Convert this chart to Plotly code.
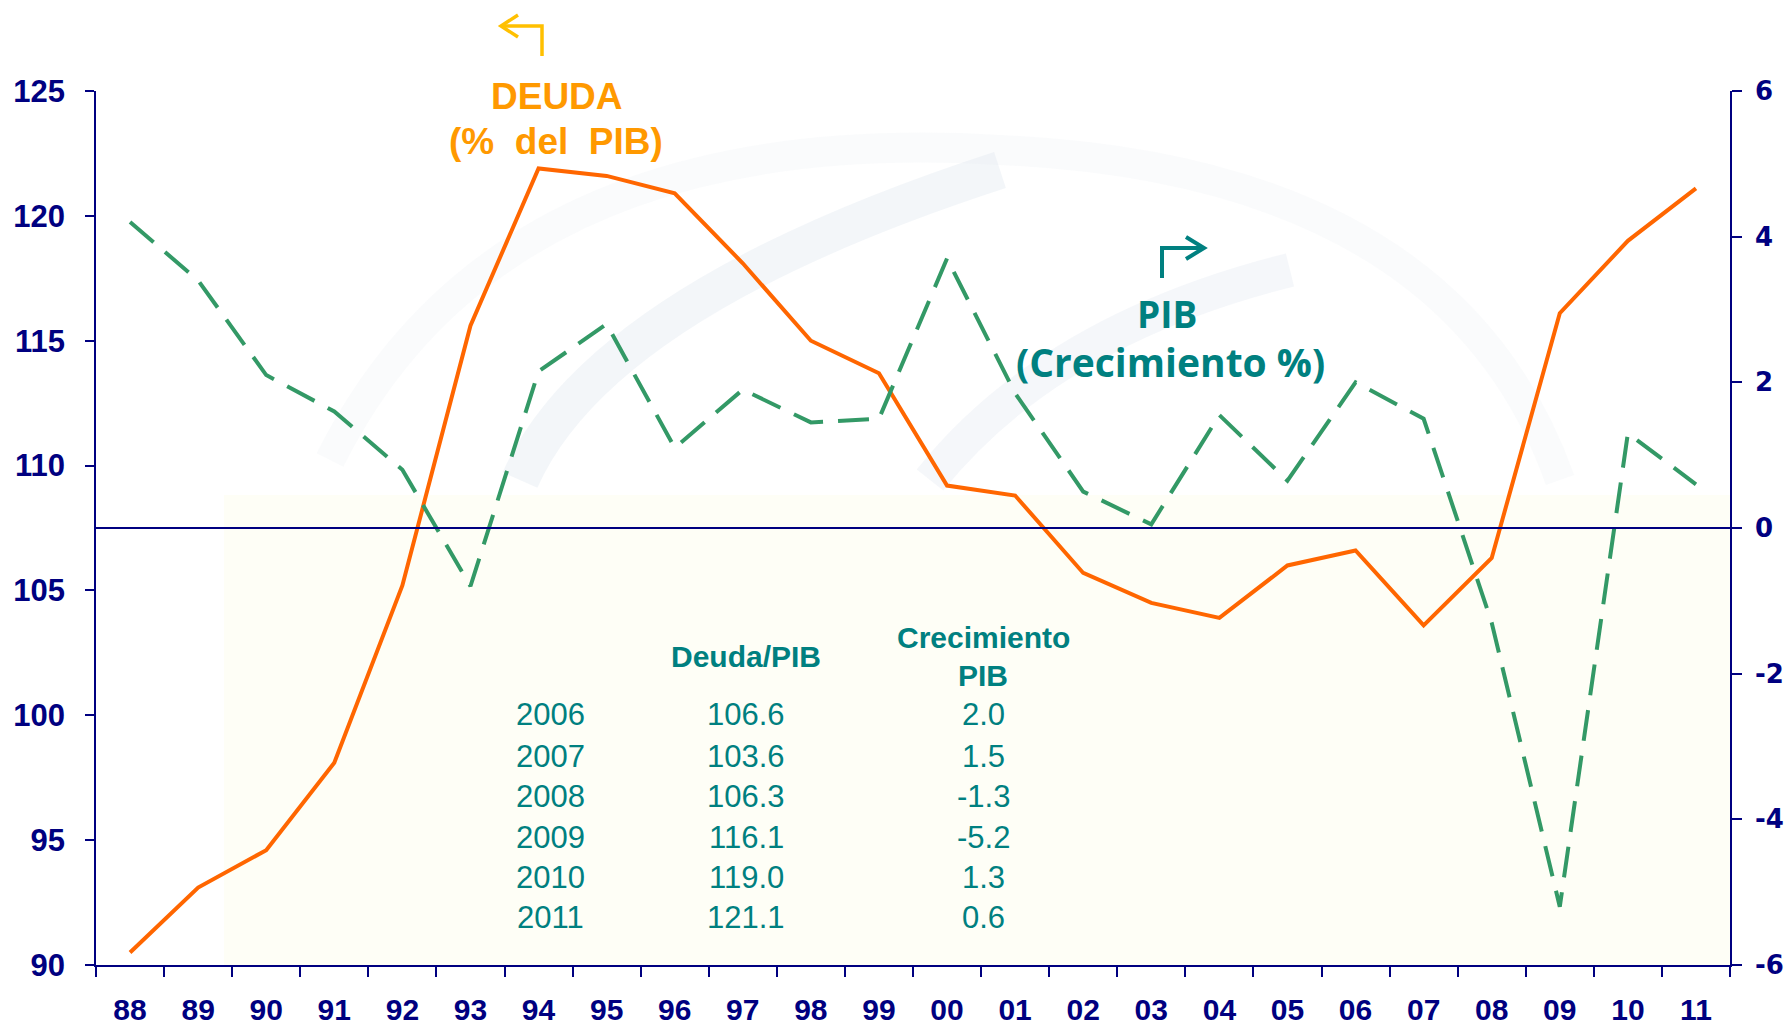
import plotly.graph_objects as go

years = ["88", "89", "90", "91", "92", "93", "94", "95", "96", "97", "98", "99",
         "00", "01", "02", "03", "04", "05", "06", "07", "08", "09", "10", "11"]
deuda = [90.5, 93.1, 94.6, 98.1, 105.2, 115.6, 121.9, 121.6, 120.9, 118.1, 115.0, 113.7,
         109.2, 108.8, 105.7, 104.5, 103.9, 106.0, 106.6, 103.6, 106.3, 116.1, 119.0, 121.1]
pib = [4.2, 3.4, 2.1, 1.6, 0.8, -0.8, 2.15, 2.8, 1.1, 1.9, 1.45, 1.5,
       3.7, 1.85, 0.5, 0.05, 1.55, 0.65, 2.0, 1.5, -1.3, -5.2, 1.3, 0.6]

right_ticks = [-6, -4, -2, 0, 2, 4, 6]
right_labels = ["-6", "-4", "-2", "0", "2", "4", "6"]

table_years = ["2006", "2007", "2008", "2009", "2010", "2011"]
table_deuda = ["106.6", "103.6", "106.3", "116.1", "119.0", "121.1"]
table_pib = ["2.0", "1.5", "-1.3", "-5.2", "1.3", "0.6"]

W, H = 1787, 1025
L, R, T, B = 96, 1730, 91, 965

NAVY = "#000080"
ORANGE = "#FF6600"
GREEN = "#339966"
TEAL = "#008080"


def px(x):
    return (x - L) / (R - L)


def py(y):
    return (B - y) / (B - T)


fig = go.Figure()
fig.add_trace(go.Scatter(x=years, y=deuda, mode="lines", name="Deuda",
                         line=dict(color=ORANGE, width=4), yaxis="y"))
fig.add_trace(go.Scatter(x=years, y=pib, mode="lines", name="PIB",
                         line=dict(color=GREEN, width=4, dash="31px,15px"), yaxis="y2"))

shapes = []
# faint background decoration
shapes.append(dict(type="rect", xref="paper", yref="paper", x0=px(224), x1=1, y0=0, y1=py(495),
                   fillcolor="#FEFEF6", line=dict(width=0), layer="below"))
shapes.append(dict(type="path", xref="paper", yref="paper", layer="below",
                   path=f"M {px(520)},{py(480)} Q {px(600)},{py(300)} {px(1000)},{py(170)}",
                   line=dict(color="rgba(215,225,235,0.30)", width=38)))
shapes.append(dict(type="path", xref="paper", yref="paper", layer="below",
                   path=f"M {px(930)},{py(480)} Q {px(1050)},{py(330)} {px(1290)},{py(270)}",
                   line=dict(color="rgba(215,225,235,0.26)", width=34)))
shapes.append(dict(type="path", xref="paper", yref="paper", layer="below",
                   path=f"M {px(330)},{py(460)} Q {px(500)},{py(120)} {px(1000)},{py(150)} Q {px(1450)},{py(170)} {px(1560)},{py(480)}",
                   line=dict(color="rgba(225,232,240,0.18)", width=30)))
# zero line on right axis
shapes.append(dict(type="line", xref="paper", yref="y2", x0=0, x1=1, y0=0, y1=0,
                   line=dict(color=NAVY, width=2)))
# orange arrow (left axis)
AO = "#FFC000"
shapes.append(dict(type="path", xref="paper", yref="paper",
                   path=f"M {px(542)},{py(56)} L {px(542)},{py(26)} L {px(502)},{py(26)}",
                   line=dict(color=AO, width=3.5)))
shapes.append(dict(type="path", xref="paper", yref="paper",
                   path=f"M {px(518)},{py(15)} L {px(501)},{py(26)} L {px(518)},{py(37)}",
                   line=dict(color=AO, width=3.5)))
# teal arrow (right axis)
shapes.append(dict(type="path", xref="paper", yref="paper",
                   path=f"M {px(1162)},{py(278)} L {px(1162)},{py(248)} L {px(1203)},{py(248)}",
                   line=dict(color=TEAL, width=4)))
shapes.append(dict(type="path", xref="paper", yref="paper",
                   path=f"M {px(1186)},{py(237)} L {px(1204)},{py(248)} L {px(1186)},{py(259)}",
                   line=dict(color=TEAL, width=4)))

ann = []


def txt(x, y, s, color, size, family="Liberation Sans, Arial, sans-serif", bold=False):
    ann.append(dict(x=px(x), y=py(y), xref="paper", yref="paper", showarrow=False,
                    text=f"<b>{s}</b>" if bold else s, xanchor="center", yanchor="middle",
                    font=dict(color=color, size=size, family=family)))


txt(557, 97, "DEUDA", "#FF9900", 37, bold=True)
txt(556, 141, "(%&nbsp; del&nbsp; PIB)", "#FF9900", 37, bold=True)
txt(1167, 313, "PIB", TEAL, 37, family="Open Sans, DejaVu Sans, sans-serif", bold=True)
txt(1170, 361, "(Crecimiento %)", TEAL, 39, family="Open Sans, DejaVu Sans, sans-serif", bold=True)

txt(746, 656, "Deuda/PIB", TEAL, 30, bold=True)
txt(983, 637, "Crecimiento", TEAL, 30, bold=True)
txt(983, 675, "PIB", TEAL, 30, bold=True)
row_y = [715, 756, 796.5, 837, 877.5, 917]
for i in range(len(table_years)):
    txt(550, row_y[i], table_years[i], TEAL, 31)
    txt(746, row_y[i], table_deuda[i], TEAL, 31)
    txt(983, row_y[i], table_pib[i], TEAL, 31)

fig.update_layout(
    width=W, height=H,
    margin=dict(l=L, r=W - R, t=T, b=H - B, autoexpand=False),
    paper_bgcolor="white", plot_bgcolor="rgba(0,0,0,0)",
    showlegend=False,
    shapes=shapes, annotations=ann,
    xaxis=dict(type="category", range=[-0.5, 23.5], tickson="boundaries",
               ticks="outside", ticklen=10, tickcolor=NAVY, tickwidth=1.5,
               showline=True, linecolor=NAVY, linewidth=1.5, showgrid=False,
               zeroline=False, ticklabelstandoff=17,
               tickfont=dict(family="Liberation Sans, Arial, sans-serif", size=30, color=NAVY),
               tickprefix="<b>", ticksuffix="</b>"),
    yaxis=dict(range=[90, 125], dtick=5, tick0=90, ticks="outside", ticklen=9,
               tickcolor=NAVY, tickwidth=1.5, showline=True, linecolor=NAVY, linewidth=1.5,
               showgrid=False, zeroline=False, ticklabelstandoff=14,
               tickfont=dict(family="Liberation Sans, Arial, sans-serif", size=31, color=NAVY),
               tickprefix="<b>", ticksuffix="</b>"),
    yaxis2=dict(range=[-6, 6], tickmode="array", tickvals=right_ticks,
                ticktext=[f"<b>{s}</b>" for s in right_labels],
                overlaying="y", side="right",
                ticks="outside", ticklen=10, tickcolor=NAVY, tickwidth=1.5,
                showline=True, linecolor=NAVY, linewidth=1.5, showgrid=False, zeroline=False,
                ticklabelstandoff=8,
                tickfont=dict(family="DejaVu Sans, Verdana, sans-serif", size=26, color=NAVY)),
)

fig.write_html("out.html", config={"displayModeBar": False},
               post_script="document.body.style.margin='0px';document.body.style.overflow='hidden';")
